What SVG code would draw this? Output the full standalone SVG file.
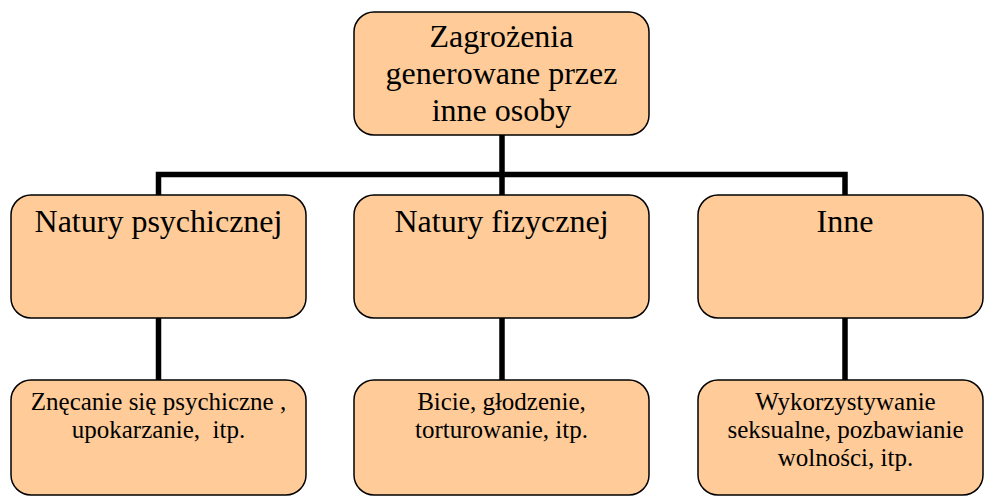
<svg xmlns="http://www.w3.org/2000/svg" width="984" height="497" viewBox="0 0 984 497">
<style>
.box{fill:#FFCC99;stroke:#000;stroke-width:1.5}
.t1{font-family:"Liberation Serif","Times New Roman",serif;font-size:32px;fill:#000;text-anchor:middle}
.t2{font-family:"Liberation Serif","Times New Roman",serif;font-size:25px;fill:#000;text-anchor:middle}
.c{fill:none;stroke:#000;stroke-width:5.5;stroke-linejoin:miter}
</style>
<rect width="984" height="497" fill="#fff"/>
<g id="connectors">
<path class="c" d="M502 135V195"/>
<path class="c" d="M158.5 195V174.5H845V195"/>
<path class="c" d="M158.5 318V380"/>
<path class="c" d="M502 318V380"/>
<path class="c" d="M845 318V380"/>
</g>
<g id="root">
<rect class="box" x="354" y="12" width="295" height="123" rx="20"/>
<text class="t1" x="501.5" y="47">Zagrożenia</text>
<text class="t1" x="501.5" y="84">generowane przez</text>
<text class="t1" x="501.5" y="121">inne osoby</text>
</g>
<g id="psych">
<rect class="box" x="11" y="195" width="295" height="123" rx="20"/>
<text class="t1" x="158.5" y="232">Natury psychicznej</text>
</g>
<g id="fiz">
<rect class="box" x="354" y="195" width="295" height="123" rx="20"/>
<text class="t1" x="501.5" y="232">Natury fizycznej</text>
</g>
<g id="inne">
<rect class="box" x="698" y="195" width="285" height="123" rx="20"/>
<text class="t1" x="845" y="232">Inne</text>
</g>
<g id="psych-ex">
<rect class="box" x="11" y="380" width="295" height="115" rx="20"/>
<text class="t2" x="158.5" y="410">Znęcanie się psychiczne ,</text>
<text class="t2" x="158.5" y="438" xml:space="preserve">upokarzanie,  itp.</text>
</g>
<g id="fiz-ex">
<rect class="box" x="354" y="380" width="295" height="115" rx="20"/>
<text class="t2" x="501.5" y="410">Bicie, głodzenie,</text>
<text class="t2" x="501.5" y="438">torturowanie, itp.</text>
</g>
<g id="inne-ex">
<rect class="box" x="698" y="380" width="285" height="115" rx="20"/>
<text class="t2" x="845.5" y="410">Wykorzystywanie</text>
<text class="t2" x="845.5" y="438">seksualne, pozbawianie</text>
<text class="t2" x="845.5" y="466">wolności, itp.</text>
</g>
</svg>
